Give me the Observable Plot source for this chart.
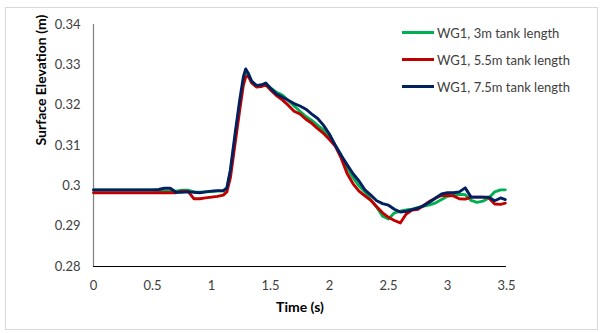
<!DOCTYPE html>
<html>
<head>
<meta charset="utf-8">
<script src="https://cdn.jsdelivr.net/npm/d3@7"></script>
<script src="https://cdn.jsdelivr.net/npm/@observablehq/plot@0.6"></script>
<style>
  body { margin: 0; background: #fff; }
  #wrap { position: relative; width: 604px; height: 333px; font-family: Lato, "Open Sans", sans-serif; }
  #frame { position: absolute; left: 5px; top: 7px; width: 593px; height: 323px; border: 1px solid #d9d9d9; box-sizing: border-box; pointer-events: none; }
  #legend { position: absolute; left: 402px; top: 19px; font-size: 13px; color: #404040; }
  .row { display: flex; align-items: center; height: 27px; }
  .sw { width: 32px; height: 3px; margin-right: 3px; }
</style>
</head>
<body>
<div id="wrap"><div id="frame"></div></div>
<script>
const time = [0, 0.1, 0.2, 0.3, 0.4, 0.5, 0.55, 0.6, 0.65, 0.7, 0.75, 0.8, 0.85, 0.9, 0.95, 1.0, 1.05, 1.1, 1.13, 1.16, 1.2, 1.24, 1.27, 1.29, 1.31, 1.34, 1.38, 1.42, 1.46, 1.5, 1.55, 1.6, 1.65, 1.7, 1.75, 1.8, 1.85, 1.9, 1.95, 2.0, 2.05, 2.1, 2.15, 2.2, 2.25, 2.3, 2.35, 2.4, 2.45, 2.5, 2.55, 2.6, 2.65, 2.7, 2.75, 2.8, 2.85, 2.9, 2.95, 3.0, 3.05, 3.1, 3.15, 3.2, 3.25, 3.3, 3.35, 3.4, 3.45, 3.49];

const wg1_3m = [0.2990, 0.2990, 0.2990, 0.2990, 0.2990, 0.2990, 0.2988, 0.2987, 0.2987, 0.2987, 0.2989, 0.2989, 0.2985, 0.2984, 0.2985, 0.2986, 0.2987, 0.2987, 0.2993, 0.3032, 0.3120, 0.3205, 0.3260, 0.3280, 0.3278, 0.3258, 0.3248, 0.3250, 0.3253, 0.3243, 0.3232, 0.3225, 0.3212, 0.3198, 0.3185, 0.3172, 0.3162, 0.3150, 0.3138, 0.3120, 0.3100, 0.3075, 0.3045, 0.3020, 0.3000, 0.2985, 0.2965, 0.2947, 0.2925, 0.2918, 0.2933, 0.2937, 0.2940, 0.2942, 0.2946, 0.2950, 0.2953, 0.2958, 0.2966, 0.2974, 0.2977, 0.2979, 0.2978, 0.2964, 0.2959, 0.2962, 0.2970, 0.2985, 0.2990, 0.2990];

const wg1_5_5m = [0.2983, 0.2983, 0.2983, 0.2983, 0.2983, 0.2983, 0.2983, 0.2983, 0.2983, 0.2983, 0.2987, 0.2987, 0.2968, 0.2968, 0.2970, 0.2972, 0.2974, 0.2977, 0.2985, 0.3020, 0.3105, 0.3190, 0.3250, 0.3270, 0.3273, 0.3255, 0.3245, 0.3246, 0.3250, 0.3238, 0.3224, 0.3213, 0.3200, 0.3185, 0.3178, 0.3165, 0.3155, 0.3142, 0.3130, 0.3115, 0.3098, 0.3068, 0.3030, 0.3005, 0.2987, 0.2975, 0.2964, 0.2948, 0.2933, 0.2922, 0.2914, 0.2908, 0.2930, 0.2940, 0.2942, 0.2952, 0.2962, 0.2970, 0.2976, 0.2976, 0.2975, 0.2968, 0.2967, 0.2972, 0.2972, 0.2972, 0.2970, 0.2955, 0.2954, 0.2957];

const wg1_7_5m = [0.2990, 0.2990, 0.2990, 0.2990, 0.2990, 0.2990, 0.2991, 0.2994, 0.2994, 0.2984, 0.2984, 0.2985, 0.2984, 0.2983, 0.2985, 0.2987, 0.2988, 0.2988, 0.2995, 0.3040, 0.3130, 0.3215, 0.3270, 0.3290, 0.3280, 0.3260, 0.3249, 0.3250, 0.3255, 0.3242, 0.3228, 0.3220, 0.3212, 0.3204, 0.3198, 0.3190, 0.3178, 0.3167, 0.3150, 0.3128, 0.3100, 0.3075, 0.3052, 0.3030, 0.3012, 0.2990, 0.2977, 0.2963, 0.2956, 0.2952, 0.2942, 0.2935, 0.2937, 0.2941, 0.2945, 0.2951, 0.2960, 0.2970, 0.2980, 0.2983, 0.2983, 0.2985, 0.2995, 0.2972, 0.2972, 0.2972, 0.2972, 0.2963, 0.2970, 0.2966];

const seriesNames = ["WG1, 3m tank length", "WG1, 5.5m tank length", "WG1, 7.5m tank length"];
const seriesColors = ["#00B050", "#C00000", "#002060"];
const xTicks = [0, 0.5, 1, 1.5, 2, 2.5, 3, 3.5];
const yTicks = [0.28, 0.29, 0.30, 0.31, 0.32, 0.33, 0.34];

const seriesValues = [wg1_3m, wg1_5_5m, wg1_7_5m];
const data = seriesNames.flatMap((name, s) =>
  time.map((t, i) => ({ t, v: seriesValues[s][i], series: name })));

const fmt = d => String(+d.toFixed(2));

const chart = Plot.plot({
  width: 604,
  height: 333,
  marginLeft: 93,
  marginRight: 98,
  marginTop: 24,
  marginBottom: 67,
  style: { fontFamily: "Lato, 'Open Sans', sans-serif", fontSize: "13px", color: "#404040", background: "transparent" },
  x: { domain: [0, 3.5] },
  y: { domain: [0.28, 0.34] },
  color: { domain: seriesNames, range: seriesColors },
  marks: [
    Plot.ruleX([0], { stroke: "#808080", strokeWidth: 1.2 }),
    Plot.ruleY([0.28], { stroke: "#000", strokeWidth: 1.2 }),
    Plot.line(data, { x: "t", y: "v", z: "series", stroke: "series", strokeWidth: 2.9, curve: "linear" }),
    Plot.axisX({ ticks: xTicks, tickFormat: fmt, tickSize: 0, tickPadding: 14, label: null, fontSize: 13 }),
    Plot.axisY({ ticks: yTicks, tickFormat: fmt, tickSize: 0, tickPadding: 13, label: null, fontSize: 13 }),
    Plot.text(["Time (s)"], { text: d => d, frameAnchor: "bottom", dy: 45, fontWeight: "bold", fontSize: 14, fill: "#000" }),
    Plot.text(["Surface Elevation (m)"], { text: d => d, frameAnchor: "left", dx: -52, rotate: -90, fontWeight: "bold", fontSize: 14, fill: "#000" })
  ]
});

const wrap = document.getElementById("wrap");
wrap.insertBefore(chart, wrap.firstChild);

const legend = document.createElement("div");
legend.id = "legend";
seriesNames.forEach((name, i) => {
  const row = document.createElement("div");
  row.className = "row";
  const sw = document.createElement("div");
  sw.className = "sw";
  sw.style.background = seriesColors[i];
  const label = document.createElement("span");
  label.textContent = name;
  row.appendChild(sw);
  row.appendChild(label);
  legend.appendChild(row);
});
wrap.appendChild(legend);
</script>
</body>
</html>
